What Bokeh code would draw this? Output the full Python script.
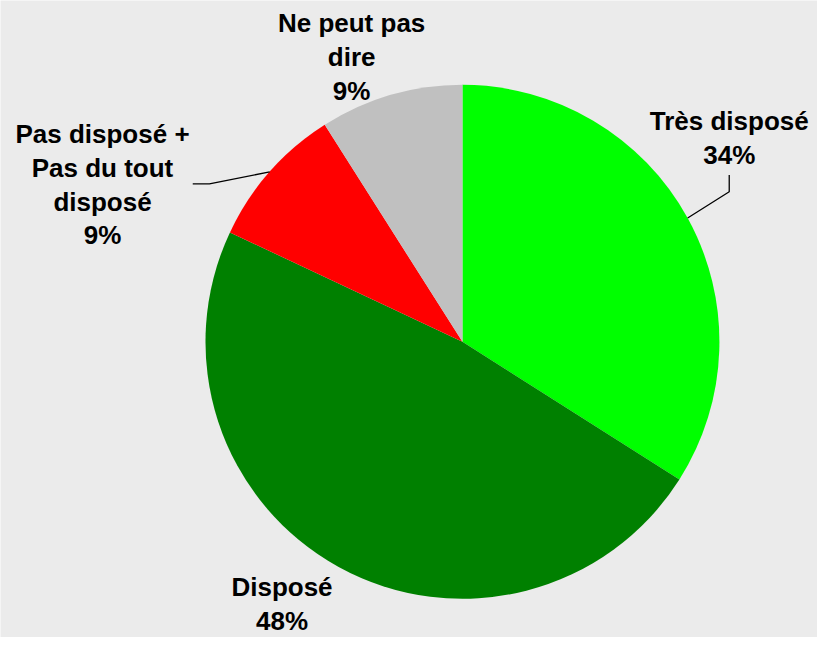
import math
from bokeh.plotting import figure
from bokeh.models import Range1d, ColumnDataSource
from bokeh.core.properties import value
from bokeh.embed import file_html
from bokeh.resources import INLINE

# ---- data ----
categories = ["Très disposé", "Disposé", "Pas disposé +\nPas du tout\ndisposé", "Ne peut pas\ndire"]
values = [34, 48, 9, 9]
colors = ["#00FF00", "#008000", "#FF0000", "#C0C0C0"]

# ---- layout (coordinates of an 833x653 design; y measured from top) ----
W, H = 817, 637
S = W / 833.0                      # uniform scale so the design fits the page
CX, CY, R = 471, 348, 262
label_anchor = [(743, 123), (287, 598), (104, 136), (358, 23)]  # first line centre
LINE_STEP = 34.5
FONT = "Liberation Sans"
FSIZE = "26px"
BG = "#EBEBEB"

def fy(y):  # design y (top-down) -> data y (bottom-up)
    return 653 - y

p = figure(width=W, height=H, output_backend="svg", toolbar_location=None,
           x_range=Range1d(0, 833), y_range=Range1d(653 - H / S, 653),
           background_fill_color=BG, border_fill_color=BG, min_border=0)
p.axis.visible = False
p.grid.visible = False
p.outline_line_color = None

total = sum(values)
starts, ends, mids = [], [], []
cum = 0.0
for v in values:
    a0 = math.pi / 2 - 2 * math.pi * cum / total
    cum += v
    a1 = math.pi / 2 - 2 * math.pi * cum / total
    starts.append(a0)
    ends.append(a1)
    mids.append((a0 + a1) / 2)

src = ColumnDataSource(dict(start=starts, end=ends, color=colors))
p.wedge(x=CX, y=fy(CY), radius=R, start_angle="start", end_angle="end",
        direction="clock", fill_color="color", line_color=None, source=src)

# leader lines for the two side labels (from slice mid-angle on the rim)
def rim(i):
    return CX + R * math.cos(mids[i]), fy(CY) + R * math.sin(mids[i])

x0, y0 = rim(0)
p.line([x0, 743, 743], [y0, fy(195), fy(178)], line_color="black", line_width=1.3)
x2, y2 = rim(2)
p.line([x2, 213, 196], [y2, fy(187), fy(187)], line_color="black", line_width=1.3)

# labels
tx, ty, tt = [], [], []
for cat, v, (ax, ay) in zip(categories, values, label_anchor):
    lines = cat.split("\n") + [f"{v}%"]
    for k, ln in enumerate(lines):
        tx.append(ax)
        ty.append(fy(ay + k * LINE_STEP))
        tt.append(ln)
p.text(x=tx, y=ty, text=tt, text_font=value(FONT), text_font_style="bold",
       text_font_size=FSIZE, text_align="center", text_baseline="middle",
       text_color="black")

open("out.html", "w").write(file_html(p, INLINE))
